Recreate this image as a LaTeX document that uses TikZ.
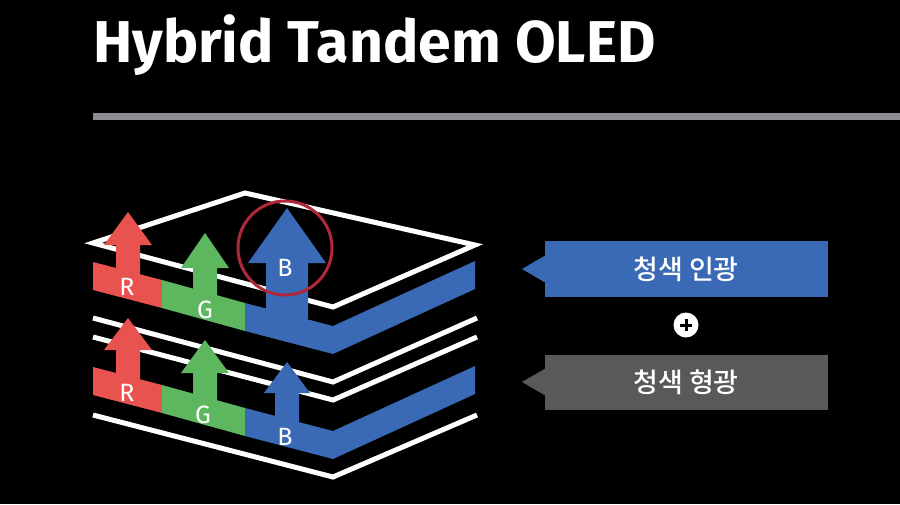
\documentclass[tikz,border=0pt]{standalone}
\usepackage{fontspec}
\setmainfont{Fira Sans}
\newfontfamily\kr{Noto Sans CJK KR Medium}
\usepackage{tikz}

\definecolor{ledred}{HTML}{E8534F}
\definecolor{ledgreen}{HTML}{5DB75F}
\definecolor{ledblue}{HTML}{3A6AB5}
\definecolor{rulegray}{HTML}{8A8C90}
\definecolor{boxgray}{HTML}{58595B}
\definecolor{ringred}{HTML}{B0283A}

% x, tip, head base, bottom, head half width, shaft half width
\newcommand{\uparr}[7]{%
\fill [#7] (#1-#6,#4) -- (#1-#6,#3) -- (#1-#5,#3) -- (#1,#2) -- (#1+#5,#3) -- (#1+#6,#3) -- (#1+#6,#4) -- cycle;}

\begin{document}
\begin{tikzpicture}[x=1pt,y=-1pt]
\tikzstyle{plate}=[draw=white,line width=5pt,line join=miter]
\tikzstyle{lbl}=[white,font=\fontsize{25}{25}\selectfont]
\tikzstyle{tag}=[white,font=\kr\fontsize{27}{27}\selectfont]
\fill [black] (0,0) rectangle (900,504);
\useasboundingbox (0,0) rectangle (900,504);
% title and rule
\node [anchor=base west,white,font=\bfseries\fontsize{59}{59}\selectfont,inner sep=0pt] (title) at (93,62) {Hybrid Tandem OLED};
\fill [rulegray] (93,113) rectangle (900,120);
% top plate
\draw [plate] (93,243) -- (245,193) -- (475,245) -- (333,307) -- cycle;
% upper band
\fill [ledred] (93,262) -- (162,280) -- (162,308) -- (93,290) -- cycle;
\fill [ledgreen] (162,280) -- (245,303) -- (245,331) -- (162,308) -- cycle;
\fill [ledblue] (245,303) -- (333,326) -- (475,261) -- (475,289) -- (333,354) -- (245,331) -- cycle;
\uparr{128}{212}{245}{276}{24}{12}{ledred}
\uparr{205}{233}{268}{297}{24}{12}{ledgreen}
\uparr{287}{208}{263}{319}{39}{21}{ledblue}
\node [lbl] (r1) at (127,287) {R};
\node [lbl] (g1) at (205,310) {G};
\node [lbl] (b1) at (285,268) {B};
\draw [ringred,line width=3pt] (285,248) circle (47);
% lower plates
\draw [plate] (93,318) -- (333,382) -- (477,318);
\draw [plate] (93,337) -- (333,400) -- (477,337);
\draw [plate] (93,415) -- (333,477) -- (477,415);
% lower band
\fill [ledred] (93,367) -- (162,385) -- (162,413) -- (93,395) -- cycle;
\fill [ledgreen] (162,385) -- (245,408) -- (245,436) -- (162,413) -- cycle;
\fill [ledblue] (245,408) -- (333,431) -- (475,366) -- (475,394) -- (333,459) -- (245,436) -- cycle;
\uparr{128}{318}{350}{381}{24}{12}{ledred}
\uparr{205}{340}{373}{402}{24}{12}{ledgreen}
\uparr{287}{362}{393}{424}{23}{12}{ledblue}
\node [lbl] (r2) at (127,393) {R};
\node [lbl] (g2) at (203,415) {G};
\node [lbl] (b2) at (285,437) {B};
% tags
\fill [ledblue] (545,241) rectangle (828,297);
\fill [ledblue] (522,269) -- (546,255) -- (546,283) -- cycle;
\node [tag] (phos) at (686,269) {청색 인광};
\node [circle,fill=white,minimum size=25pt,inner sep=0pt] (plus) at (686,325) {};
\draw [black,line width=3pt] ([xshift=-6pt]plus.center) -- ([xshift=6pt]plus.center)
  ([yshift=-6pt]plus.center) -- ([yshift=6pt]plus.center);
\fill [boxgray] (545,355) rectangle (828,410);
\fill [boxgray] (522,382) -- (546,368) -- (546,396) -- cycle;
\node [tag] (fluo) at (686,382) {청색 형광};
\end{tikzpicture}
\end{document}
